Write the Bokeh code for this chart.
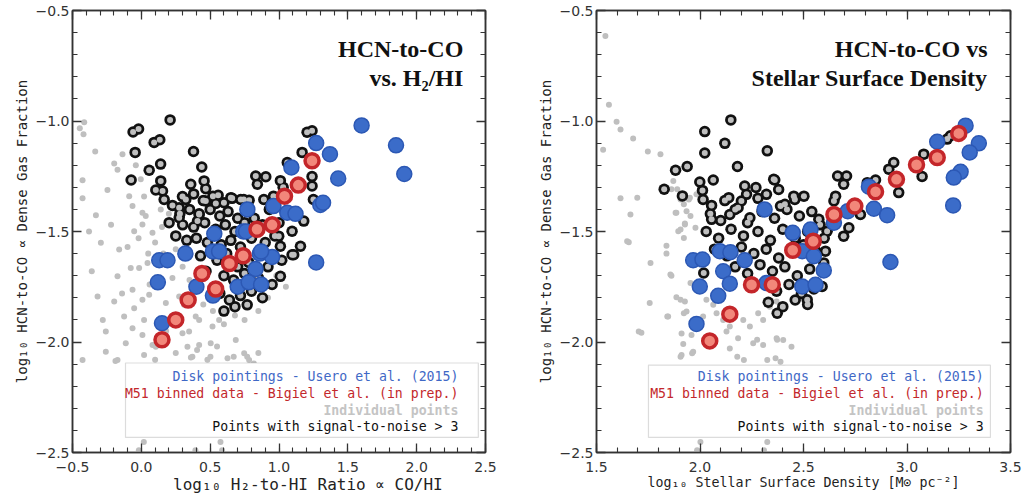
from bokeh.plotting import figure
from bokeh.layouts import row
from bokeh.models import (Range1d, LinearAxis, SingleIntervalTicker, CustomJSTickFormatter,
                          Label, BoxAnnotation)
from bokeh.embed import file_html
from bokeh.resources import INLINE

# ---------------- data: left panel (H2/HI) ----------------
gray_l_x = [-0.415, -0.447, -0.42, -0.335, -0.197, -0.173, -0.137, -0.427, -0.246, -0.427, -0.33, -0.04,
            -0.004, 0.02, -0.088, -0.064, 0.008, 0.141, 0.032, -0.294, -0.161, -0.052, 0.008, 0.081,
            -0.077, -0.016, -0.173, 0.045, -0.318, -0.197, -0.064, 0.008, 0.057, -0.125, -0.052, 0.02,
            -0.258, -0.064, 0.008, 0.081, -0.113, -0.258, 0.02, -0.173, -0.427, 0.178, 0.226, 0.275,
            0.311, 0.42, 0.347, 0.299, 0.517, 0.565, 0.686, 0.42, 0.504, 0.335, 0.371, 0.626, 0.747,
            0.783, 0.105, 0.395, -0.188, 0.018, -0.018, 0.393, 0.575, 0.587, 0.671, 0.769, 0.817,
            0.405, 0.502, 0.25, 0.22, 0.30, 0.35, 0.45, 0.52, 0.60, 0.68, 0.75, 0.85, 0.92, 0.98,
            1.05, 0.15, 0.10, 0.20, 0.05, 0.12, 0.18, 0.25, 0.10, 0.55, 0.85,
            -0.36, -0.22, -0.10, 0.06, -0.28, -0.14, 0.16, 0.24, -0.38, -0.02, 0.36, 0.48]
gray_l_y = [-1.006, -1.033, -1.06, -1.138, -1.192, -1.221, -1.15, -1.268, -1.312, -1.349, -1.426, -1.20,
            -1.264, -1.342, -1.34, -1.385, -1.415, -1.40, -1.43, -1.551, -1.582, -1.499, -1.468, -1.506,
            -1.665, -1.665, -1.703, -1.642, -1.794, -1.817, -1.764, -1.809, -1.786, -1.885, -1.847, -1.9,
            -1.953, -1.938, -1.968, -2.014, -2.006, -2.044, -2.059, -2.082, -2.082, -1.824, -1.71, -1.794,
            -1.832, -1.90, -1.953, -1.96, -1.93, -1.90, -1.991, -2.014, -2.006, -2.021, -2.067, -2.074,
            -2.051, -2.082, -2.021, -1.885, -2.086, -2.453, -2.49, -2.49, -2.453, -2.49, -2.067, -2.067,
            -2.097, -2.036, -2.067, -1.58, -1.62, -1.66, -1.72, -1.83, -1.86, -1.92, -1.88, -1.90, -1.86,
            -1.80, -1.70, -1.75, -1.48, -1.55, -1.42, -1.60, -1.72, -1.95, -2.05, -2.08, -2.02, -2.05,
            -1.68, -1.47, -1.57, -1.74, -1.90, -1.78, -1.60, -1.88, -1.50, -1.53, -2.07, -2.08]

snr_l_x = [0.209, -0.06, -0.02, 0.093, 0.134, -0.045, 0.379, 0.14, 0.057, 0.439, -0.074, 0.141, 0.831,
           0.904, 0.843, 0.359, 0.456, 0.468, 0.105, 0.154, 0.299, 0.226, 0.275, 0.323, 0.558, 0.65,
           0.541, 0.468, 0.722, 0.783, 0.166, 0.275, 0.42, 0.408, 0.202, 1.204, 1.24, 1.168, 1.06,
           1.01, 1.03, 1.24, 1.24, 1.25, 0.96, 0.89, 0.744, 0.77, 1.18, 1.095, 0.998, 1.01, 1.156,
           1.095, 1.01, 0.769, 1.107,
           0.38, 0.45, 0.52, 0.60, 0.66, 0.35, 0.42, 0.50, 0.57, 0.63, 0.70, 0.30, 0.38, 0.46, 0.54,
           0.61, 0.68, 0.75, 0.82, 0.88, 0.33, 0.40, 0.48, 0.58, 0.65, 0.72, 0.80, 0.90, 0.97, 0.43,
           0.55, 0.62, 0.70, 0.78, 0.92, 1.02, 0.47, 0.60, 0.67, 0.75, 0.85, 0.95, 0.57, 0.64, 0.72,
           0.80, 0.88, 0.60, 0.68, 0.25, 0.28, 0.93, 1.00]
snr_l_y = [-0.995, -1.05, -1.036, -1.097, -1.085, -1.142, -1.138, -1.195, -1.223, -1.208, -1.267, -1.271,
           -1.249, -1.252, -1.286, -1.286, -1.271, -1.306, -1.312, -1.317, -1.342, -1.382, -1.392,
           -1.355, -1.336, -1.347, -1.373, -1.362, -1.355, -1.359, -1.355, -1.438, -1.423, -1.453,
           -1.46, -1.051, -1.044, -1.142, -1.188, -1.27, -1.30, -1.251, -1.294, -1.355, -1.34, -1.355,
           -1.355, -1.40, -1.453, -1.499, -1.521, -1.567, -1.567, -1.605, -1.703, -1.832, -1.605,
           -1.33, -1.36, -1.34, -1.37, -1.35, -1.40, -1.42, -1.40, -1.43, -1.41, -1.44, -1.47, -1.48,
           -1.46, -1.49, -1.47, -1.50, -1.46, -1.44, -1.47, -1.54, -1.53, -1.55, -1.56, -1.54, -1.57,
           -1.53, -1.55, -1.52, -1.61, -1.63, -1.60, -1.66, -1.64, -1.66, -1.63, -1.68, -1.70, -1.72,
           -1.69, -1.71, -1.74, -1.78, -1.81, -1.79, -1.77, -1.80, -1.86, -1.84, -1.52, -1.42, -1.40,
           -1.46]

disk_l_x = [1.60, 1.85, 1.91, 1.27, 1.37, 1.43, 1.09, 1.30, 1.32, 1.27, 0.96, 1.06, 1.12, 0.77, 0.74,
            0.53, 0.76, 0.32, 0.52, 0.565, 0.13, 0.19, 0.12, 0.86, 0.95, 0.83, 0.87, 0.40, 0.52, 0.70,
            0.78, 0.87, 0.15]
disk_l_y = [-1.02, -1.11, -1.24, -1.10, -1.15, -1.26, -1.21, -1.38, -1.37, -1.64, -1.385, -1.415,
            -1.42, -1.40, -1.50, -1.51, -1.50, -1.60, -1.59, -1.59, -1.63, -1.63, -1.73, -1.60, -1.615,
            -1.67, -1.59, -1.75, -1.79, -1.75, -1.73, -1.74, -1.915]

m51_l_x = [1.24, 1.14, 1.04, 0.95, 0.84, 0.74, 0.64, 0.44, 0.54, 0.34, 0.25, 0.15]
m51_l_y = [-1.18, -1.29, -1.34, -1.47, -1.49, -1.61, -1.645, -1.69, -1.76, -1.81, -1.90, -1.99]

# ---------------- data: right panel (stellar surface density) ----------------
gray_r_x = [1.543, 1.56, 1.597, 1.616, 1.677, 1.532, 1.748, 1.809, 1.616, 1.697, 1.664, 1.648, 1.938,
            1.871, 1.89, 1.906, 1.882, 1.922, 1.946, 1.906, 1.922, 1.954, 1.978, 1.886, 1.935, 1.927,
            1.862, 1.983, 1.951, 1.656, 1.838, 1.838, 1.895, 1.927, 1.862, 1.757, 1.886, 1.927, 1.935,
            1.846, 1.717, 1.911, 1.959, 2.031, 2.064, 2.015, 1.919, 1.967, 1.911, 2.128, 2.184, 2.144,
            2.08, 2.112, 2.144, 2.209, 2.241, 2.281, 2.305, 2.337, 2.37, 2.37, 2.402, 2.442, 2.257,
            2.305, 1.704, 1.906, 1.962, 2.18, 2.212, 2.325, 2.365, 2.389, 2.405, 2.276, 2.373, 2.002,
            2.325, 2.309, 1.986, 1.761, 1.857, 1.954, 1.906, 1.922, 1.842, 1.97]
gray_r_y = [-0.615, -0.927, -1.003, -1.039, -1.079, -1.13, -1.138, -1.15, -1.35, -1.347, -1.423, -1.544,
            -1.203, -1.271, -1.309, -1.355, -1.415, -1.377, -1.355, -1.491, -1.529, -1.43, -1.483,
            -1.415, -1.408, -1.464, -1.309, -1.332, -1.347, -1.549, -1.564, -1.60, -1.499, -1.468, -1.70,
            -1.824, -1.797, -1.817, -1.862, -1.885, -1.958, -1.961, -1.968, -1.809, -1.832, -1.885,
            -2.009, -2.044, -2.059, -1.953, -1.983, -2.029, -1.87, -1.90, -1.93, -1.90, -1.93, -1.87,
            -1.90, -1.84, -1.817, -1.983, -1.991, -2.021, -2.006, -2.014, -1.953, -2.067, -2.051,
            -2.067, -2.082, -2.082, -2.074, -2.089, -2.12, -1.99, -1.99, -2.453, -2.453, -2.49, -2.49,
            -1.642, -1.695, -1.733, -1.809, -1.87, -1.885, -1.915]

snr_r_x = [2.149, 2.023, 2.12, 2.023, 2.325, 2.181, 1.882, 1.938, 2.064, 2.361, 1.827, 1.999, 2.012,
           2.015, 2.056, 1.915, 2.139, 2.216, 2.27, 2.225, 2.321, 2.2, 2.184, 2.41, 2.458, 2.056, 2.144,
           2.241, 2.356, 2.665, 2.708, 2.694, 2.848, 2.808, 2.936, 2.912, 3.081, 3.073, 2.96, 3.21,
           3.194, 2.655, 2.647, 2.775, 2.719, 2.694, 2.502, 2.453, 2.389, 2.614, 2.574, 2.606, 2.373,
           2.59, 2.598, 2.518, 2.018,
           2.05, 2.10, 2.17, 2.23, 2.30, 2.36, 2.42, 2.48, 2.54, 2.03, 2.09, 2.15, 2.21, 2.28, 2.34,
           2.40, 2.46, 2.52, 2.58, 2.07, 2.13, 2.20, 2.26, 2.32, 2.38, 2.44, 2.50, 2.56, 2.17, 2.23,
           2.29, 2.35, 2.41, 2.47, 2.53, 2.25, 2.31, 2.37, 2.43, 2.49, 2.55, 2.33, 2.40, 2.46, 2.52,
           2.60, 2.64, 2.12, 2.28, 2.38]
snr_r_y = [-0.995, -1.048, -1.101, -1.145, -1.135, -1.206, -1.223, -1.206, -1.267, -1.267, -1.309,
           -1.276, -1.314, -1.355, -1.382, -1.339, -1.347, -1.294, -1.301, -1.332, -1.332, -1.362,
           -1.392, -1.377, -1.355, -1.445, -1.423, -1.438, -1.264, -1.249, -1.249, -1.286, -1.267,
           -1.279, -1.188, -1.218, -1.15, -1.251, -1.324, -1.067, -1.082, -1.34, -1.362, -1.423,
           -1.483, -1.521, -1.34, -1.34, -1.385, -1.499, -1.445, -1.589, -1.87, -1.749, -1.642,
           -1.809, -1.688,
           -1.42, -1.45, -1.40, -1.46, -1.41, -1.44, -1.40, -1.43, -1.41, -1.50, -1.53, -1.49, -1.52,
           -1.50, -1.54, -1.49, -1.53, -1.50, -1.47, -1.58, -1.61, -1.57, -1.60, -1.58, -1.62, -1.58,
           -1.56, -1.59, -1.66, -1.69, -1.65, -1.68, -1.66, -1.70, -1.67, -1.75, -1.73, -1.77, -1.74,
           -1.78, -1.76, -1.82, -1.84, -1.81, -1.83, -1.53, -1.46, -1.36, -1.35, -1.31]

disk_r_x = [3.283, 3.146, 3.347, 3.303, 3.259, 3.226, 3.223, 2.816, 2.84, 2.904, 2.714, 2.647, 2.92,
            2.312, 2.448, 2.534, 2.494, 2.55, 2.598, 2.494, 2.558, 1.967, 2.012, 2.096, 2.147, 2.216,
            2.112, 1.999, 2.144, 2.088, 1.983, 2.321]
disk_r_y = [-1.021, -1.094, -1.101, -1.142, -1.23, -1.256, -1.382, -1.297, -1.397, -1.426, -1.408,
            -1.46, -1.638, -1.40, -1.506, -1.491, -1.589, -1.612, -1.676, -1.749, -1.741, -1.63,
            -1.627, -1.589, -1.594, -1.63, -1.68, -1.749, -1.736, -1.791, -1.918, -1.733]

m51_r_x = [3.25, 3.146, 3.046, 2.949, 2.848, 2.748, 2.647, 2.547, 2.448, 2.349, 2.249, 2.144, 2.047]
m51_r_y = [-1.056, -1.165, -1.198, -1.264, -1.32, -1.385, -1.423, -1.544, -1.585, -1.741, -1.741,
           -1.874, -1.995]

legend_texts = ["Disk pointings - Usero et al. (2015)",
                "M51 binned data - Bigiel et al. (in prep.)",
                "Individual points",
                "Points with signal-to-noise > 3"]
legend_colors = ["#3f68c6", "#c3282c", "#c4c4c4", "#111111"]

y_label = "log\u2081\u2080 HCN-to-CO \u221d Dense Gas Fraction"
# leading en-spaces reproduce the original's off-centre placement of this title
x_label_left = "\u2002" * 6 + "log\u2081\u2080 H\u2082-to-HI Ratio \u221d CO/HI"
x_label_right = "log\u2081\u2080 Stellar Surface Density [M\u2299 pc\u207b\u00b2]"

BLUE_FILL, BLUE_LINE = "#3b6cc9", "#2c58b4"
RED_FILL, RED_LINE = "#f2877a", "#c4262a"
GRAY = "#bfbfbf"
MONO = "DejaVu Sans Mono"

fmt = CustomJSTickFormatter(code="""
const s = Math.abs(tick).toFixed(1);
return (tick < -1e-9 ? '\u2212' : '') + s;
""")
blank_fmt = CustomJSTickFormatter(code="return '';")


def make_panel(xr, width, mb_left, mb_right, xlabel, xlabel_size, title1, title2, title_x,
               gx, gy, sx, sy, bx, by, rx, ry, box, text_x):
    p = figure(width=width, height=496, output_backend="svg", toolbar_location=None,
               x_range=Range1d(*xr), y_range=Range1d(-2.5, -0.5),
               min_border_left=mb_left, min_border_right=mb_right,
               min_border_top=10, min_border_bottom=44,
               x_axis_type=None, y_axis_type=None)
    p.outline_line_color = "#333333"
    p.outline_line_width = 1.5
    p.background_fill_color = "white"
    p.border_fill_color = "white"

    def styled_axis(show_labels, label=None, label_size="14px"):
        ax = LinearAxis(ticker=SingleIntervalTicker(interval=0.5, num_minor_ticks=5))
        ax.major_tick_in = 9
        ax.major_tick_out = 0
        ax.minor_tick_in = 5
        ax.minor_tick_out = 0
        ax.major_tick_line_color = "#333333"
        ax.minor_tick_line_color = "#333333"
        ax.major_tick_line_width = 1.3
        ax.minor_tick_line_width = 1.1
        ax.axis_line_color = "#333333"
        ax.axis_line_width = 1.5
        if show_labels:
            ax.formatter = fmt
            ax.major_label_text_font = "DejaVu Sans"
            ax.major_label_text_font_size = "14px"
            ax.major_label_text_color = "#333333"
        else:
            ax.formatter = blank_fmt
            ax.major_label_standoff = 0
            ax.axis_label_standoff = 0
        if label:
            ax.axis_label = label
            ax.axis_label_text_font = MONO
            ax.axis_label_text_font_size = label_size
            ax.axis_label_text_font_style = "normal"
            ax.axis_label_text_color = "#222222"
        return ax

    xb = styled_axis(True, xlabel, xlabel_size)
    xb.major_label_standoff = 9
    xb.axis_label_standoff = 0
    p.add_layout(xb, "below")
    yl = styled_axis(True, y_label)
    yl.major_label_standoff = 3
    yl.axis_label_standoff = 3
    p.add_layout(yl, "left")
    p.add_layout(styled_axis(False), "above")
    p.add_layout(styled_axis(False), "right")

    p.xgrid.ticker = SingleIntervalTicker(interval=0.25)
    p.ygrid.ticker = SingleIntervalTicker(interval=0.25)
    for g in (p.xgrid, p.ygrid):
        g.grid_line_color = "#9a9a9a"
        g.grid_line_dash = "1 2"
        g.grid_line_width = 1

    # individual points, then S/N>3 points as black discs with the grey point drawn on top
    p.scatter(gx, gy, size=6, fill_color=GRAY, line_color=None)
    p.scatter(sx, sy, size=11.5, fill_color="#111111", line_color=None)
    p.scatter(sx, sy, size=6, fill_color=GRAY, line_color=None)
    p.scatter(bx, by, size=15, fill_color=BLUE_FILL, line_color=BLUE_LINE, line_width=1.5)
    p.scatter(rx, ry, size=14, fill_color=RED_FILL, line_color=RED_LINE, line_width=3.5)

    p.add_layout(BoxAnnotation(left=box[0], right=box[1], bottom=box[3], top=box[2],
                               fill_color="white", fill_alpha=1.0, line_color="#8a8a8a",
                               line_width=1.2, level="annotation"))
    ys = [-2.158, -2.232, -2.308, -2.382]
    for t, c, yy in zip(legend_texts, legend_colors, ys):
        p.add_layout(Label(x=text_x, y=yy, text=t, text_align="right", text_baseline="middle",
                           text_font=MONO, text_font_size="13.2px", text_color=c,
                           text_font_style="bold" if c == "#c4c4c4" else "normal"))

    for t, yy in ((title1, -0.672), (title2, -0.804)):
        p.add_layout(Label(x=title_x, y=yy, text=t, text_align="right", text_baseline="middle",
                           text_font="Liberation Serif", text_font_size="24px",
                           text_font_style="bold", text_color="#111111"))
    return p


p1 = make_panel((-0.5, 2.5), 530, 72, 45, x_label_left, "16px",
                "HCN-to-CO", "vs. H\u2082/HI", 2.339,
                gray_l_x, gray_l_y, snr_l_x, snr_l_y, disk_l_x, disk_l_y, m51_l_x, m51_l_y,
                (-0.115, 2.448, -2.095, -2.432), 2.303)
p2 = make_panel((1.5, 3.5), 493, 66, 13, x_label_right, "13.3px",
                "HCN-to-CO vs", "Stellar Surface Density", 3.389,
                gray_r_x, gray_r_y, snr_r_x, snr_r_y, disk_r_x, disk_r_y, m51_r_x, m51_r_y,
                (1.751, 3.403, -2.105, -2.432), 3.37)

layout = row(p1, p2)
open("out.html", "w").write(file_html(layout, INLINE))
